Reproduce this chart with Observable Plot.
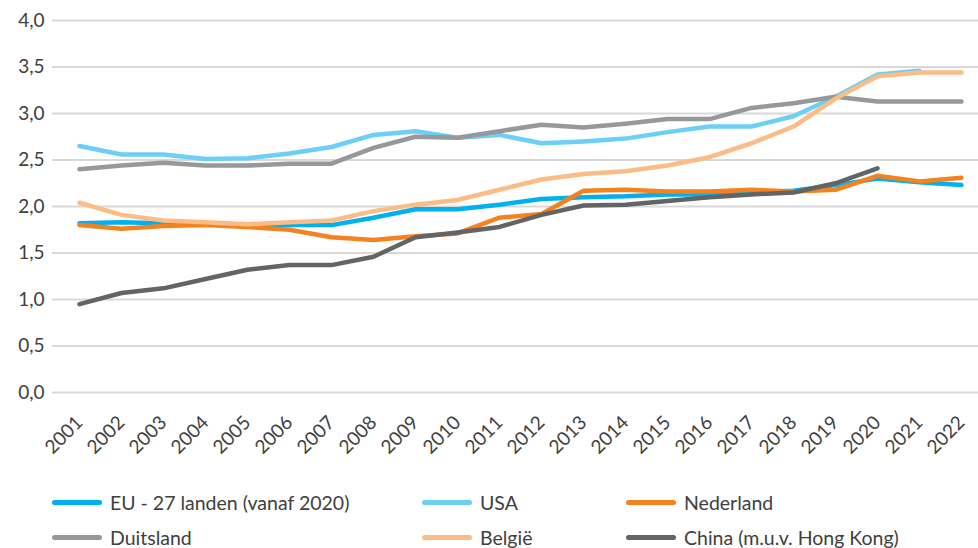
<!DOCTYPE html>
<html>
<head>
<meta charset="utf-8">
<script src="https://cdn.jsdelivr.net/npm/d3@7"></script>
<script src="https://cdn.jsdelivr.net/npm/@observablehq/plot@0.6"></script>
<style>
  html, body { margin: 0; padding: 0; background: #fff; }
  body { width: 978px; height: 548px; overflow: hidden; font-family: Lato, "Open Sans", sans-serif; color: #404040; }
  #legend { position: relative; width: 978px; height: 78px; font-size: 19.5px; }
  .item { position: absolute; display: flex; align-items: center; white-space: nowrap; }
  .sw { width: 50px; height: 5px; border-radius: 3px; margin-right: 8px; }
</style>
</head>
<body>
<div id="chart"></div>
<div id="legend"></div>
<script>
const years = ["2001","2002","2003","2004","2005","2006","2007","2008","2009","2010","2011","2012","2013","2014","2015","2016","2017","2018","2019","2020","2021","2022"];
const yTicks = [0, 0.5, 1, 1.5, 2, 2.5, 3, 3.5, 4];

const seriesNames = ["EU - 27 landen (vanaf 2020)", "USA", "Nederland", "Duitsland", "België", "China (m.u.v. Hong Kong)"];
const seriesColors = ["#00b0f0", "#6dcff6", "#f4831f", "#97989b", "#fbbd85", "#636466"];

const eu = [1.82,1.83,1.82,1.81,1.80,1.80,1.80,1.88,1.97,1.97,2.02,2.08,2.10,2.11,2.13,2.13,2.15,2.17,2.23,2.30,2.26,2.23];
const usa = [2.65,2.56,2.56,2.51,2.52,2.57,2.64,2.77,2.81,2.74,2.77,2.68,2.70,2.73,2.80,2.86,2.86,2.97,3.18,3.42,3.46,null];
const nederland = [1.80,1.76,1.79,1.80,1.78,1.75,1.67,1.64,1.68,1.71,1.88,1.92,2.17,2.18,2.16,2.16,2.18,2.16,2.18,2.33,2.27,2.31];
const duitsland = [2.40,2.44,2.47,2.44,2.44,2.46,2.46,2.63,2.75,2.74,2.81,2.88,2.85,2.89,2.94,2.94,3.06,3.11,3.18,3.13,3.13,3.13];
const belgie = [2.04,1.91,1.85,1.83,1.81,1.83,1.85,1.95,2.02,2.07,2.18,2.29,2.35,2.38,2.44,2.53,2.68,2.86,3.16,3.40,3.44,3.44];
const china = [0.95,1.07,1.12,1.22,1.32,1.37,1.37,1.46,1.67,1.72,1.78,1.91,2.01,2.02,2.06,2.10,2.13,2.15,2.25,2.41,null,null];

const seriesValues = [eu, usa, nederland, duitsland, belgie, china];

const rows = [];
seriesValues.forEach((vals, si) => {
  vals.forEach((v, i) => {
    if (v != null) rows.push({series: seriesNames[si], year: years[i], value: v});
  });
});

const chart = Plot.plot({
  width: 978,
  height: 470,
  marginLeft: 52,
  marginRight: 0,
  marginTop: 20,
  marginBottom: 78,
  style: {fontFamily: "Lato, 'Open Sans', sans-serif", fontSize: "19px", color: "#404040", background: "#fff"},
  x: {type: "point", domain: years, range: [73.5, 966], padding: 0},
  y: {domain: [0, 4], range: [392, 20]},
  color: {domain: seriesNames, range: seriesColors},
  marks: [
    Plot.ruleY(yTicks, {stroke: "#d9d9d9", strokeWidth: 2}),
    Plot.axisY({ticks: yTicks, tickSize: 0, tickPadding: 8, label: null, tickFormat: d => d.toFixed(1).replace(".", ","), fill: "#404040"}),
    Plot.axisX({tickSize: 0, tickRotate: -45, tickPadding: 0, dy: 27, dx: 0, label: null, fill: "#404040"}),
    Plot.line(rows, {x: "year", y: "value", z: "series", stroke: "series", strokeWidth: 4.5, strokeLinecap: "round", strokeLinejoin: "round"})
  ]
});
document.getElementById("chart").appendChild(chart);

const legendPos = [[52, 32], [422, 32], [626, 32], [52, 67], [422, 67], [626, 67]];
const legend = document.getElementById("legend");
seriesNames.forEach((name, i) => {
  const it = document.createElement("div");
  it.className = "item";
  it.style.left = legendPos[i][0] + "px";
  it.style.top = (legendPos[i][1] - 12) + "px";
  it.style.height = "24px";
  const sw = document.createElement("div");
  sw.className = "sw";
  sw.style.background = seriesColors[i];
  const tx = document.createElement("span");
  tx.textContent = name;
  it.appendChild(sw);
  it.appendChild(tx);
  legend.appendChild(it);
});
</script>
</body>
</html>
